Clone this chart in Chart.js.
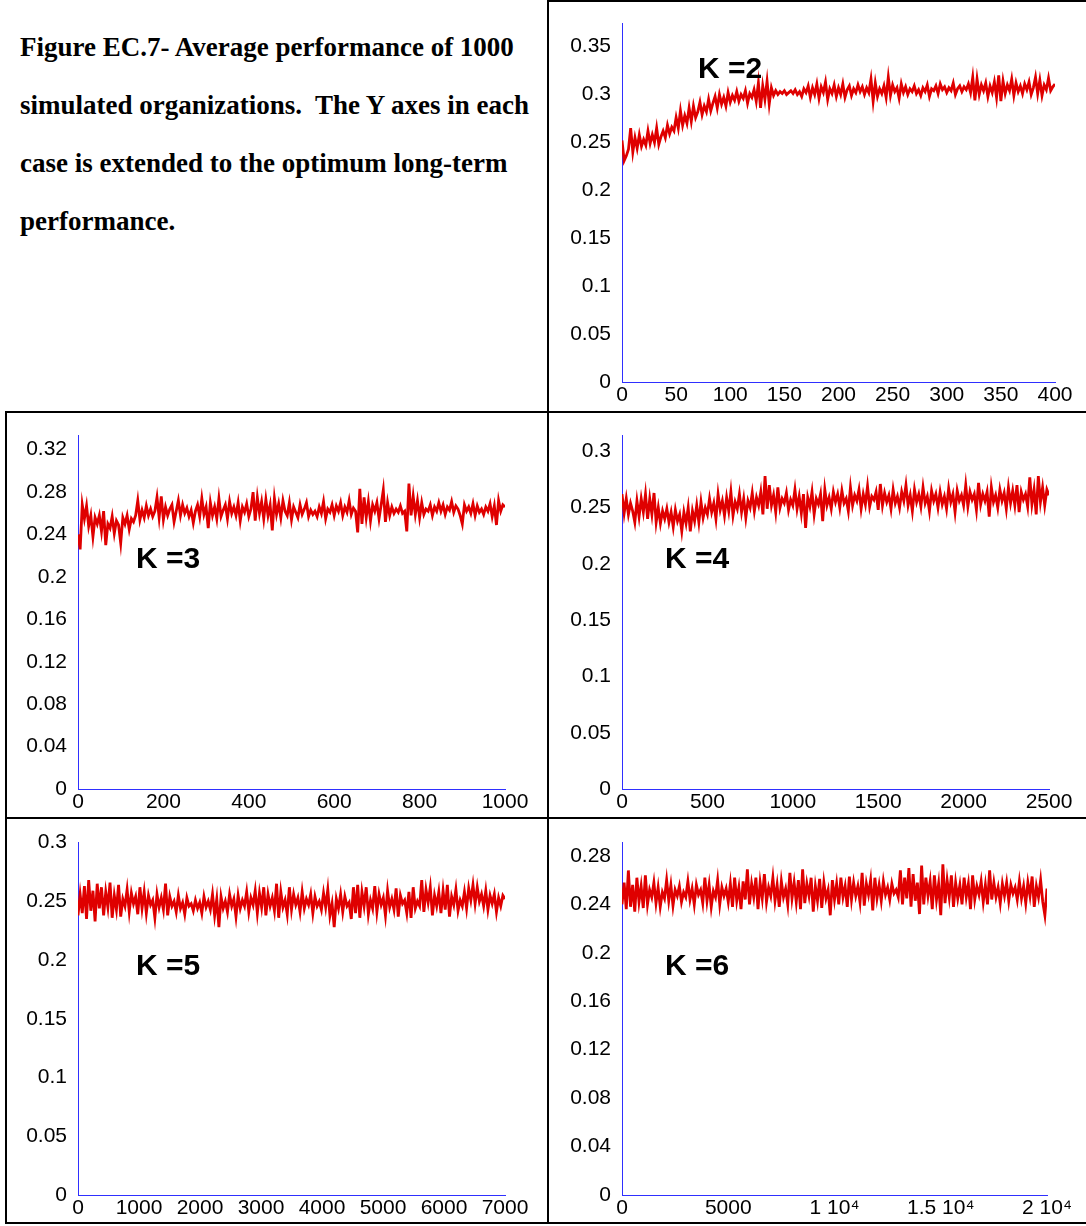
<!DOCTYPE html>
<html>
<head>
<meta charset="utf-8">
<title>Figure EC.7</title>
<script src="https://cdn.jsdelivr.net/npm/chart.js@4.4.1/dist/chart.umd.min.js"></script>
<style>
  html, body { margin: 0; padding: 0; background: #fff; }
  #page { position: relative; width: 1086px; height: 1226px; overflow: hidden; }
  .rule { position: absolute; background: #000; }
  .caption { position: absolute; left: 20px; top: 18px; width: 525px; color: #000;
             font: bold 27px/58px "Liberation Serif", "Times New Roman", serif; white-space: nowrap; }
  .klabel { position: absolute; color: #000; white-space: pre;
            font: bold 30px/30px "Liberation Sans", Arial, sans-serif; }
  canvas { position: absolute; }
</style>
</head>
<body>
<div id="page">
  <div class="caption">Figure EC.7- Average performance of 1000<br>simulated organizations.&nbsp; The Y axes in each<br>case is extended to the optimum long-term<br>performance.</div>

  <!-- table rules -->
  <div class="rule" style="left:548px;top:0;width:538px;height:2px"></div>
  <div class="rule" style="left:547px;top:0;width:2px;height:1224px"></div>
  <div class="rule" style="left:5px;top:411px;width:1081px;height:2px"></div>
  <div class="rule" style="left:5px;top:817px;width:1081px;height:2px"></div>
  <div class="rule" style="left:5px;top:1222px;width:1081px;height:2px"></div>
  <div class="rule" style="left:5px;top:411px;width:2px;height:813px"></div>

  <canvas id="k2"></canvas>
  <canvas id="k3"></canvas>
  <canvas id="k4"></canvas>
  <canvas id="k5"></canvas>
  <canvas id="k6"></canvas>

  <div class="klabel" style="left:698px;top:53px">K =2</div>
  <div class="klabel" style="left:136px;top:543px">K =3</div>
  <div class="klabel" style="left:665px;top:543px">K =4</div>
  <div class="klabel" style="left:136px;top:950px">K =5</div>
  <div class="klabel" style="left:665px;top:950px">K =6</div>
</div>

<script>
// average performance (one value every STEP periods)
const K2_STEP = 2;
const K2_VALUES = [
  0.252, 0.231, 0.236, 0.243, 0.265, 0.240, 0.255, 0.244, 0.258, 0.246,
  0.253, 0.247, 0.262, 0.249, 0.258, 0.250, 0.265, 0.248, 0.256, 0.262,
  0.255, 0.268, 0.259, 0.266, 0.262, 0.276, 0.265, 0.283, 0.268, 0.278,
  0.270, 0.286, 0.272, 0.288, 0.276, 0.282, 0.292, 0.279, 0.288, 0.282,
  0.295, 0.283, 0.291, 0.298, 0.286, 0.300, 0.290, 0.297, 0.288, 0.302,
  0.292, 0.299, 0.294, 0.303, 0.293, 0.300, 0.296, 0.304, 0.291, 0.301,
  0.297, 0.305, 0.293, 0.312, 0.286, 0.309, 0.295, 0.314, 0.290, 0.307,
  0.299, 0.304, 0.300, 0.303, 0.301, 0.304, 0.300, 0.302, 0.304, 0.301,
  0.305, 0.300, 0.303, 0.298, 0.306, 0.302, 0.309, 0.297, 0.307, 0.300,
  0.311, 0.296, 0.308, 0.302, 0.313, 0.295, 0.306, 0.301, 0.310, 0.298,
  0.307, 0.300, 0.311, 0.297, 0.305, 0.309, 0.299, 0.306, 0.302, 0.310,
  0.303, 0.308, 0.300, 0.307, 0.302, 0.316, 0.293, 0.312, 0.298, 0.306,
  0.301, 0.309, 0.297, 0.318, 0.299, 0.310, 0.303, 0.307, 0.296, 0.311,
  0.302, 0.308, 0.300, 0.306, 0.303, 0.309, 0.301, 0.305, 0.299, 0.307,
  0.303, 0.310, 0.298, 0.306, 0.304, 0.309, 0.301, 0.311, 0.305, 0.308,
  0.302, 0.307, 0.304, 0.312, 0.300, 0.306, 0.309, 0.303, 0.308, 0.305,
  0.311, 0.302, 0.318, 0.294, 0.316, 0.300, 0.310, 0.304, 0.312, 0.298,
  0.309, 0.302, 0.313, 0.297, 0.320, 0.293, 0.314, 0.301, 0.310, 0.304,
  0.316, 0.299, 0.312, 0.303, 0.309, 0.301, 0.311, 0.305, 0.313, 0.300,
  0.307, 0.318, 0.301, 0.315, 0.299, 0.310, 0.305, 0.317, 0.304, 0.308,
  0.311
];

const K3_STEP = 5;
const K3_VALUES = [
  0.240, 0.226, 0.268, 0.255, 0.267, 0.248, 0.258, 0.238, 0.256, 0.250,
  0.258, 0.243, 0.262, 0.230, 0.250, 0.246, 0.257, 0.241, 0.253, 0.249,
  0.232, 0.256, 0.250, 0.258, 0.245, 0.255, 0.252, 0.258, 0.272, 0.254,
  0.263, 0.256, 0.267, 0.258, 0.264, 0.257, 0.262, 0.275, 0.256, 0.276,
  0.254, 0.266, 0.258, 0.264, 0.268, 0.252, 0.262, 0.272, 0.258, 0.268,
  0.260, 0.265, 0.257, 0.263, 0.251, 0.262, 0.268, 0.257, 0.274, 0.259,
  0.266, 0.246, 0.270, 0.258, 0.266, 0.255, 0.274, 0.257, 0.263, 0.268,
  0.255, 0.271, 0.260, 0.266, 0.258, 0.270, 0.253, 0.266, 0.261, 0.269,
  0.257, 0.264, 0.280, 0.253, 0.275, 0.260, 0.271, 0.255, 0.273, 0.258,
  0.268, 0.244, 0.274, 0.259, 0.269, 0.256, 0.272, 0.262, 0.258, 0.270,
  0.254, 0.266, 0.261, 0.256, 0.268, 0.259, 0.264, 0.270, 0.257, 0.263,
  0.259, 0.262, 0.257, 0.266, 0.260, 0.271, 0.255, 0.264, 0.261, 0.268,
  0.258, 0.267, 0.262, 0.270, 0.258, 0.266, 0.261, 0.272, 0.259, 0.265,
  0.262, 0.242, 0.283, 0.250, 0.275, 0.256, 0.271, 0.253, 0.268, 0.262,
  0.270, 0.255, 0.268, 0.282, 0.252, 0.270, 0.258, 0.266, 0.260, 0.264,
  0.261, 0.267, 0.260, 0.262, 0.243, 0.288, 0.258, 0.276, 0.259, 0.272,
  0.256, 0.270, 0.259, 0.264, 0.262, 0.268, 0.258, 0.266, 0.262, 0.270,
  0.262, 0.268, 0.259, 0.266, 0.263, 0.271, 0.261, 0.267, 0.264, 0.258,
  0.250, 0.268, 0.262, 0.266, 0.260, 0.269, 0.258, 0.267, 0.261, 0.264,
  0.259, 0.266, 0.262, 0.269, 0.257, 0.267, 0.249, 0.272, 0.262, 0.268,
  0.266
];

const K4_STEP = 12.5;
const K4_VALUES = [
  0.262, 0.245, 0.258, 0.244, 0.254, 0.247, 0.237, 0.256, 0.242, 0.258,
  0.246, 0.262, 0.240, 0.258, 0.244, 0.263, 0.237, 0.250, 0.236, 0.247,
  0.240, 0.249, 0.237, 0.246, 0.233, 0.248, 0.238, 0.244, 0.229, 0.246,
  0.236, 0.250, 0.229, 0.247, 0.238, 0.252, 0.237, 0.255, 0.241, 0.250,
  0.244, 0.258, 0.246, 0.254, 0.240, 0.262, 0.248, 0.256, 0.243, 0.259,
  0.247, 0.264, 0.243, 0.255, 0.249, 0.262, 0.246, 0.258, 0.241, 0.256,
  0.250, 0.263, 0.247, 0.259, 0.252, 0.264, 0.244, 0.278, 0.249, 0.270,
  0.252, 0.261, 0.246, 0.268, 0.250, 0.258, 0.254, 0.263, 0.248, 0.257,
  0.252, 0.266, 0.249, 0.260, 0.245, 0.262, 0.232, 0.259, 0.251, 0.264,
  0.244, 0.258, 0.253, 0.262, 0.238, 0.266, 0.252, 0.259, 0.249, 0.264,
  0.255, 0.262, 0.250, 0.265, 0.254, 0.258, 0.247, 0.268, 0.252, 0.261,
  0.256, 0.266, 0.249, 0.262, 0.253, 0.269, 0.251, 0.260, 0.257, 0.264,
  0.248, 0.271, 0.252, 0.263, 0.255, 0.261, 0.249, 0.266, 0.254, 0.260,
  0.250, 0.264, 0.256, 0.270, 0.252, 0.261, 0.247, 0.266, 0.255, 0.262,
  0.251, 0.268, 0.254, 0.260, 0.247, 0.265, 0.256, 0.262, 0.250, 0.264,
  0.253, 0.260, 0.249, 0.267, 0.255, 0.262, 0.246, 0.265, 0.256, 0.261,
  0.252, 0.270, 0.251, 0.264, 0.257, 0.262, 0.248, 0.272, 0.253, 0.262,
  0.256, 0.264, 0.242, 0.268, 0.255, 0.261, 0.250, 0.266, 0.256, 0.263,
  0.249, 0.268, 0.254, 0.265, 0.252, 0.270, 0.246, 0.264, 0.257, 0.262,
  0.251, 0.277, 0.253, 0.266, 0.244, 0.278, 0.255, 0.268, 0.252, 0.266,
  0.261
];

const K5_STEP = 35;
const K5_VALUES = [
  0.238, 0.256, 0.240, 0.263, 0.235, 0.268, 0.242, 0.259, 0.233, 0.265,
  0.244, 0.262, 0.238, 0.258, 0.245, 0.266, 0.236, 0.255, 0.243, 0.264,
  0.237, 0.252, 0.246, 0.260, 0.241, 0.257, 0.248, 0.254, 0.239, 0.262,
  0.244, 0.258, 0.240, 0.255, 0.247, 0.251, 0.236, 0.256, 0.245, 0.253,
  0.243, 0.265, 0.238, 0.254, 0.246, 0.250, 0.241, 0.255, 0.244, 0.249,
  0.239, 0.253, 0.246, 0.248, 0.242, 0.251, 0.244, 0.249, 0.240, 0.254,
  0.245, 0.250, 0.243, 0.256, 0.238, 0.252, 0.228, 0.254, 0.244, 0.250,
  0.241, 0.256, 0.246, 0.252, 0.237, 0.255, 0.244, 0.251, 0.246, 0.258,
  0.241, 0.253, 0.247, 0.259, 0.240, 0.257, 0.245, 0.262, 0.238, 0.256,
  0.246, 0.253, 0.242, 0.265, 0.236, 0.258, 0.245, 0.251, 0.239, 0.262,
  0.243, 0.256, 0.247, 0.253, 0.241, 0.258, 0.244, 0.252, 0.247, 0.256,
  0.240, 0.254, 0.246, 0.250, 0.243, 0.257, 0.245, 0.260, 0.238, 0.248,
  0.228, 0.252, 0.244, 0.256, 0.241, 0.254, 0.246, 0.249, 0.235, 0.262,
  0.240, 0.264, 0.236, 0.258, 0.246, 0.262, 0.239, 0.251, 0.244, 0.263,
  0.241, 0.256, 0.247, 0.253, 0.238, 0.259, 0.245, 0.252, 0.243, 0.261,
  0.237, 0.255, 0.248, 0.251, 0.240, 0.258, 0.236, 0.262, 0.244, 0.250,
  0.246, 0.268, 0.241, 0.260, 0.249, 0.262, 0.238, 0.255, 0.246, 0.258,
  0.240, 0.259, 0.243, 0.264, 0.237, 0.254, 0.247, 0.260, 0.242, 0.251,
  0.246, 0.258, 0.244, 0.261, 0.251, 0.264, 0.248, 0.262, 0.250, 0.256,
  0.246, 0.259, 0.243, 0.255, 0.248, 0.256, 0.241, 0.253, 0.246, 0.255,
  0.252
];

const K6_STEP = 100;
const K6_VALUES = [
  0.240, 0.258, 0.236, 0.268, 0.238, 0.256, 0.234, 0.262, 0.242, 0.255,
  0.237, 0.264, 0.240, 0.252, 0.246, 0.258, 0.241, 0.254, 0.238, 0.250,
  0.245, 0.260, 0.243, 0.256, 0.239, 0.252, 0.247, 0.255, 0.242, 0.250,
  0.246, 0.259, 0.244, 0.253, 0.240, 0.256, 0.248, 0.252, 0.241, 0.262,
  0.243, 0.256, 0.238, 0.251, 0.246, 0.260, 0.240, 0.254, 0.247, 0.253,
  0.242, 0.257, 0.238, 0.262, 0.243, 0.254, 0.236, 0.259, 0.244, 0.269,
  0.240, 0.257, 0.246, 0.262, 0.236, 0.258, 0.245, 0.265, 0.242, 0.254,
  0.247, 0.262, 0.243, 0.256, 0.238, 0.259, 0.246, 0.253, 0.240, 0.266,
  0.245, 0.258, 0.242, 0.260, 0.236, 0.269, 0.241, 0.257, 0.247, 0.262,
  0.234, 0.255, 0.243, 0.261, 0.237, 0.258, 0.245, 0.252, 0.231, 0.260,
  0.244, 0.257, 0.240, 0.262, 0.246, 0.255, 0.238, 0.263, 0.244, 0.258,
  0.247, 0.255, 0.242, 0.266, 0.239, 0.257, 0.248, 0.260, 0.235, 0.262,
  0.245, 0.256, 0.243, 0.259, 0.248, 0.254, 0.244, 0.257, 0.249, 0.252,
  0.246, 0.268, 0.240, 0.262, 0.245, 0.270, 0.238, 0.265, 0.243, 0.258,
  0.232, 0.272, 0.240, 0.262, 0.247, 0.259, 0.236, 0.264, 0.244, 0.257,
  0.231, 0.273, 0.241, 0.260, 0.246, 0.264, 0.238, 0.258, 0.245, 0.256,
  0.240, 0.262, 0.246, 0.257, 0.236, 0.264, 0.244, 0.255, 0.248, 0.259,
  0.242, 0.256, 0.240, 0.268, 0.244, 0.258, 0.246, 0.254, 0.241, 0.257,
  0.247, 0.258, 0.243, 0.256, 0.249, 0.254, 0.244, 0.259, 0.245, 0.255,
  0.241, 0.258, 0.247, 0.263, 0.238, 0.255, 0.246, 0.260, 0.242, 0.231,
  0.253
];

// axis ranges and tick labels
const K2_X_TICKS = [0, 50, 100, 150, 200, 250, 300, 350, 400];
const K2_X_LABELS = ['0', '50', '100', '150', '200', '250', '300', '350', '400'];
const K2_Y_TICKS = [0, 0.05, 0.1, 0.15, 0.2, 0.25, 0.3, 0.35];
const K2_Y_LABELS = ['0', '0.05', '0.1', '0.15', '0.2', '0.25', '0.3', '0.35'];

const K3_X_TICKS = [0, 200, 400, 600, 800, 1000];
const K3_X_LABELS = ['0', '200', '400', '600', '800', '1000'];
const K3_Y_TICKS = [0, 0.04, 0.08, 0.12, 0.16, 0.2, 0.24, 0.28, 0.32];
const K3_Y_LABELS = ['0', '0.04', '0.08', '0.12', '0.16', '0.2', '0.24', '0.28', '0.32'];

const K4_X_TICKS = [0, 500, 1000, 1500, 2000, 2500];
const K4_X_LABELS = ['0', '500', '1000', '1500', '2000', '2500'];
const K4_Y_TICKS = [0, 0.05, 0.1, 0.15, 0.2, 0.25, 0.3];
const K4_Y_LABELS = ['0', '0.05', '0.1', '0.15', '0.2', '0.25', '0.3'];

const K5_X_TICKS = [0, 1000, 2000, 3000, 4000, 5000, 6000, 7000];
const K5_X_LABELS = ['0', '1000', '2000', '3000', '4000', '5000', '6000', '7000'];
const K5_Y_TICKS = [0, 0.05, 0.1, 0.15, 0.2, 0.25, 0.3];
const K5_Y_LABELS = ['0', '0.05', '0.1', '0.15', '0.2', '0.25', '0.3'];

const K6_X_TICKS = [0, 5000, 10000, 15000, 20000];
const K6_X_LABELS = ['0', '5000', '1 10\u2074', '1.5 10\u2074', '2 10\u2074'];
const K6_Y_TICKS = [0, 0.04, 0.08, 0.12, 0.16, 0.2, 0.24, 0.28];
const K6_Y_LABELS = ['0', '0.04', '0.08', '0.12', '0.16', '0.2', '0.24', '0.28'];

// plot area of each panel in page pixels, plus the y range shown
const Y_AXIS_W = 60, X_AXIS_H = 30, PAD_L = 20, PAD_T = 20, PAD_R = 45, PAD_B = 4;
const FONT = { family: '"Liberation Sans", Arial, sans-serif', size: 21 };
const AXIS_BLUE = '#2f2fff';
const LINE_RED = '#df0000';

function panel(id, plot, step, values, xTicks, xLabels, yMax, yTicks, yLabels) {
  const cv = document.getElementById(id);
  const left = plot.left - Y_AXIS_W - PAD_L;
  const top = plot.top - PAD_T;
  const w = plot.right + PAD_R - left;
  const h = plot.bottom + X_AXIS_H + PAD_B - top;
  cv.width = w; cv.height = h;
  cv.style.left = left + 'px'; cv.style.top = top + 'px';
  cv.style.width = w + 'px'; cv.style.height = h + 'px';

  const pts = values.map((v, i) => ({ x: i * step, y: v }));

  return new Chart(cv, {
    type: 'line',
    data: {
      datasets: [{
        data: pts,
        borderColor: LINE_RED,
        borderWidth: 2.8,
        pointRadius: 0,
        tension: 0,
        fill: false
      }]
    },
    options: {
      responsive: false,
      animation: false,
      events: [],
      layout: { padding: { left: PAD_L, top: PAD_T, right: PAD_R, bottom: PAD_B } },
      plugins: { legend: { display: false }, tooltip: { enabled: false } },
      scales: {
        x: {
          type: 'linear',
          min: 0,
          max: xTicks[xTicks.length - 1],
          grid: { display: false, drawTicks: false },
          border: { display: true, color: AXIS_BLUE, width: 1 },
          afterBuildTicks: s => { s.ticks = xTicks.map(v => ({ value: v })); },
          afterFit: s => { s.height = X_AXIS_H; },
          ticks: {
            autoSkip: false, maxRotation: 0, padding: 1,
            color: '#000', font: FONT,
            callback: (v, i) => xLabels[i]
          }
        },
        y: {
          type: 'linear',
          min: 0,
          max: yMax,
          grid: { display: false, drawTicks: false },
          border: { display: true, color: AXIS_BLUE, width: 1 },
          afterBuildTicks: s => { s.ticks = yTicks.map(v => ({ value: v })); },
          afterFit: s => { s.width = Y_AXIS_W; },
          ticks: {
            autoSkip: false, padding: 11,
            color: '#000', font: FONT,
            callback: (v, i) => yLabels[i]
          }
        }
      }
    }
  });
}

panel('k2', { left: 622, top: 20, right: 1055, bottom: 382 }, K2_STEP, K2_VALUES,
      K2_X_TICKS, K2_X_LABELS, 0.374, K2_Y_TICKS, K2_Y_LABELS);
panel('k3', { left: 78, top: 432, right: 505, bottom: 789 }, K3_STEP, K3_VALUES,
      K3_X_TICKS, K3_X_LABELS, 0.3333, K3_Y_TICKS, K3_Y_LABELS);
panel('k4', { left: 622, top: 432, right: 1049, bottom: 789 }, K4_STEP, K4_VALUES,
      K4_X_TICKS, K4_X_LABELS, 0.314, K4_Y_TICKS, K4_Y_LABELS);
panel('k5', { left: 78, top: 839, right: 505, bottom: 1195 }, K5_STEP, K5_VALUES,
      K5_X_TICKS, K5_X_LABELS, 0.3, K5_Y_TICKS, K5_Y_LABELS);
panel('k6', { left: 622, top: 839, right: 1047, bottom: 1195 }, K6_STEP, K6_VALUES,
      K6_X_TICKS, K6_X_LABELS, 0.291, K6_Y_TICKS, K6_Y_LABELS);
</script>
</body>
</html>
